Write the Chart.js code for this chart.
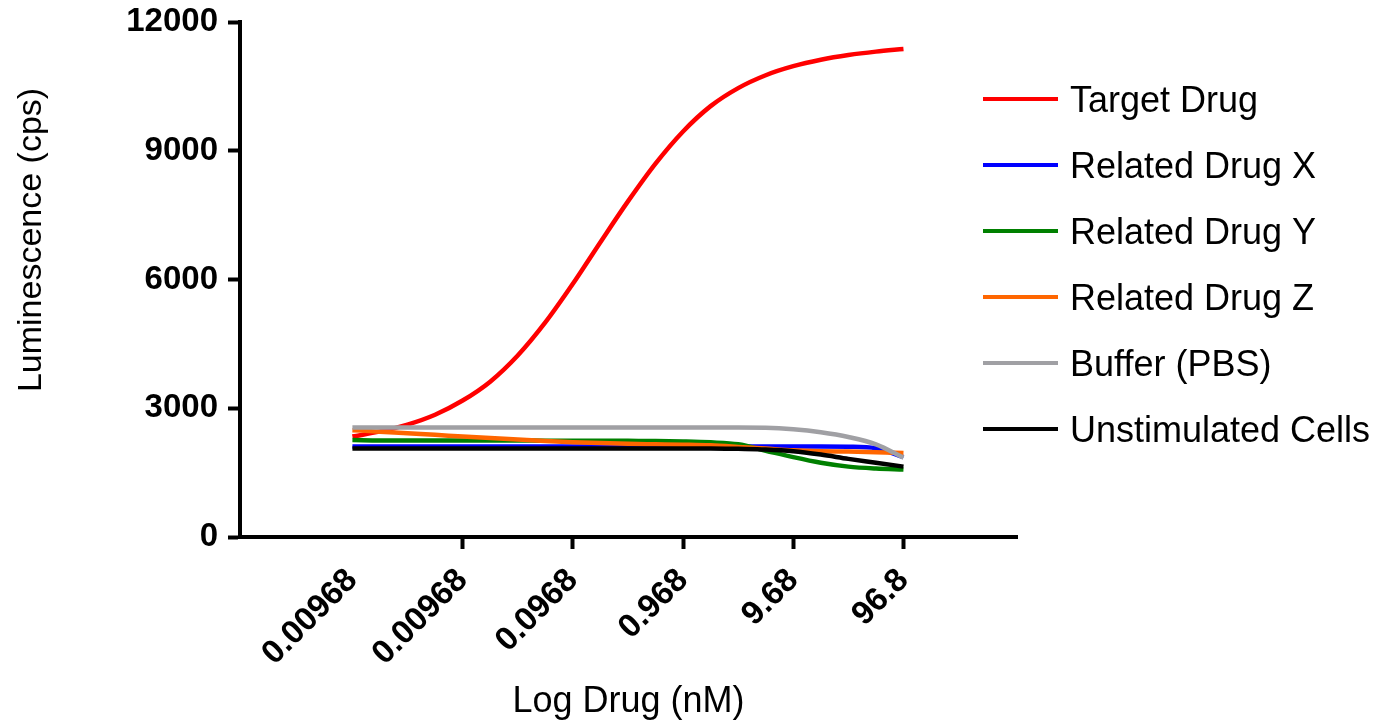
<!DOCTYPE html>
<html>
<head>
<meta charset="utf-8">
<script src="https://cdn.jsdelivr.net/npm/chart.js@4.4.1/dist/chart.umd.min.js"></script>
<style>
  html, body { margin: 0; padding: 0; background: #fff; }
  #wrap { width: 1375px; height: 728px; position: relative; }
</style>
</head>
<body>
<div id="wrap"><canvas id="c"></canvas></div>
<script>
// ---- data (log10 of drug concentration in nM) ----
const logDose = [-3.01, -2.76, -2.51, -2.26, -2.01, -1.76, -1.51, -1.26, -1.01, -0.76, -0.51,
                 -0.26, -0.01, 0.24, 0.49, 0.74, 0.99, 1.24, 1.49, 1.74, 1.99];
const tickValues = [-3.01, -2.01, -1.01, -0.01, 0.99, 1.99];
const tickLabels = ['0.00968', '0.00968', '0.0968', '0.968', '9.68', '96.8'];
const yTickStep = 3000;
const seriesNames = ['Target Drug', 'Related Drug X', 'Related Drug Y', 'Related Drug Z', 'Buffer (PBS)', 'Unstimulated Cells'];

const targetDrug   = [2340, 2460, 2620, 2850, 3180, 3620, 4230, 5000, 5900, 6870, 7820,
                      8700, 9450, 10040, 10460, 10760, 10970, 11120, 11230, 11310, 11370];
const relatedDrugX = [2110, 2110, 2110, 2110, 2110, 2110, 2110, 2110, 2110, 2110, 2110,
                      2110, 2110, 2110, 2110, 2110, 2110, 2110, 2105, 2070, 1860];
const relatedDrugY = [2260, 2250, 2250, 2250, 2250, 2250, 2250, 2245, 2245, 2245, 2240,
                      2235, 2225, 2205, 2160, 2010, 1860, 1730, 1640, 1595, 1570];
const relatedDrugZ = [2490, 2455, 2416, 2380, 2340, 2305, 2270, 2235, 2210, 2188, 2170,
                      2160, 2150, 2135, 2100, 2060, 2020, 2000, 1990, 1975, 1955];
const bufferPBS    = [2550, 2550, 2550, 2550, 2550, 2550, 2550, 2550, 2550, 2550, 2550,
                      2550, 2550, 2550, 2550, 2545, 2510, 2440, 2330, 2160, 1850];
const unstimulated = [2065, 2065, 2065, 2065, 2065, 2065, 2065, 2065, 2065, 2065, 2065,
                      2065, 2065, 2065, 2055, 2040, 2000, 1920, 1820, 1730, 1640];

const colors = ['#ff0000', '#0000ff', '#008000', '#ff6600', '#a0a0a4', '#000000'];
const drawOrder = [5, 4, 3, 2, 0, 1];
const allSeries = [targetDrug, relatedDrugX, relatedDrugY, relatedDrugZ, bufferPBS, unstimulated];

const FONT = '"Liberation Sans", Arial, Helvetica, sans-serif';

const datasets = allSeries.map((vals, i) => ({
  label: seriesNames[i],
  data: vals.map((v, j) => ({ x: logDose[j], y: v })),
  borderColor: colors[i],
  backgroundColor: colors[i],
  borderWidth: 4.5,
  pointRadius: 0,
  fill: false,
  cubicInterpolationMode: 'monotone',
  order: drawOrder[i]
}));

// legend at the right and the y-axis title (drawn slightly above the axis centre, as in the original)
const sidePlugin = {
  id: 'sideLegend',
  afterDraw(chart) {
    const ctx = chart.ctx;
    ctx.save();
    ctx.font = '36px ' + FONT;
    ctx.textAlign = 'left';
    ctx.textBaseline = 'alphabetic';
    chart.data.datasets.forEach((ds, i) => {
      const y = 99 + i * 66;
      ctx.strokeStyle = ds.borderColor;
      ctx.lineWidth = 4;
      ctx.beginPath();
      ctx.moveTo(983, y);
      ctx.lineTo(1058, y);
      ctx.stroke();
      ctx.fillStyle = '#000';
      ctx.fillText(ds.label, 1070, y + 13);
    });
    // y axis title
    const t = chart.options.scales.y.title;
    ctx.translate(32, 240);
    ctx.rotate(-Math.PI / 2);
    ctx.font = '34px ' + FONT;
    ctx.textAlign = 'center';
    ctx.textBaseline = 'middle';
    ctx.fillStyle = '#000';
    ctx.fillText(t.text, 0, 0);
    ctx.restore();
  }
};

new Chart(document.getElementById('c'), {
  type: 'line',
  data: { datasets },
  plugins: [sidePlugin],
  options: {
    responsive: true,
    maintainAspectRatio: false,
    animation: false,
    layout: { padding: { top: 22, right: 358, left: 0, bottom: 0 } },
    plugins: { legend: { display: false }, tooltip: { enabled: false } },
    scales: {
      x: {
        type: 'linear',
        min: -4.03,
        max: 3.02,
        afterBuildTicks: (scale) => { scale.ticks = tickValues.map(v => ({ value: v })); },
        afterFit: (scale) => { scale.height = 191; scale.paddingLeft = 0; scale.paddingRight = 0; },
        ticks: {
          autoSkip: false,
          minRotation: 45,
          maxRotation: 45,
          padding: 12,
          color: '#000',
          font: { family: FONT, size: 33, weight: 'bold' },
          callback: (val, idx) => tickLabels[idx]
        },
        grid: {
          drawOnChartArea: false,
          drawTicks: true,
          tickLength: 12,
          tickWidth: 4,
          tickColor: (ctx) => (ctx.index === 0 ? 'rgba(0,0,0,0)' : '#000')
        },
        border: { display: true, color: '#000', width: 4 },
        title: {
          display: true,
          text: 'Log Drug (nM)',
          color: '#000',
          font: { family: FONT, size: 36, weight: 'normal' },
          padding: { top: 4, bottom: 4 }
        }
      },
      y: {
        type: 'linear',
        min: 0,
        max: 12000,
        afterFit: (scale) => { scale.width = 240; scale.paddingTop = 0; scale.paddingBottom = 0; },
        ticks: {
          stepSize: yTickStep,
          padding: 10,
          color: '#000',
          font: { family: FONT, size: 33, weight: 'bold' },
          callback: (v) => String(v)
        },
        grid: {
          drawOnChartArea: false,
          drawTicks: true,
          tickLength: 12,
          tickWidth: 4,
          tickColor: '#000'
        },
        border: { display: true, color: '#000', width: 4 },
        title: {
          display: false,
          text: 'Luminescence (cps)'
        }
      }
    }
  }
});
</script>
</body>
</html>
